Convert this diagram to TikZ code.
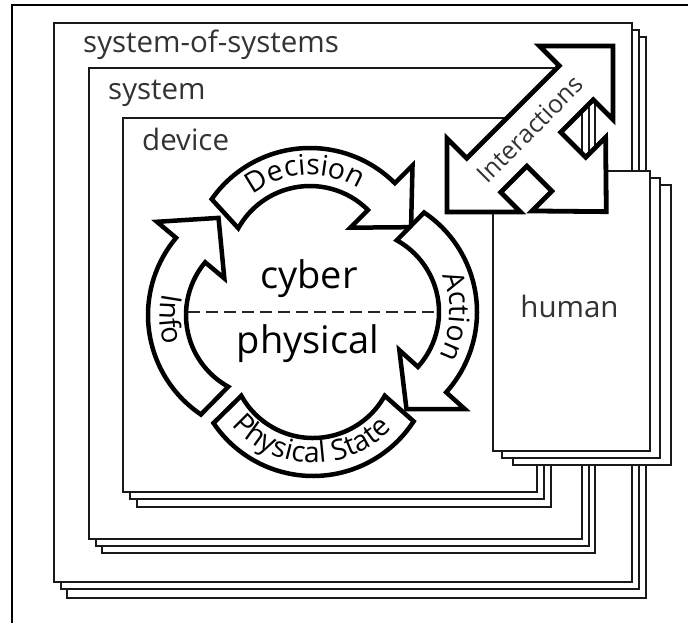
\documentclass[tikz,border=0pt]{standalone}
\usepackage{fontspec}
\setmainfont{Open Sans}
\usetikzlibrary{decorations.text}
\tikzset{
  sheet/.style={draw=black!90, line width=1.8pt, fill=white},
  looparrow/.style={draw=black, line width=4.5pt, fill=white, line join=miter, miter limit=10},
  layertitle/.style={inner sep=0pt, text=black!80, font=\fontsize{29.5}{29.5}\selectfont, anchor=base west},
  arctext/.style={decorate, decoration={text along path, text align=center, text={|\arcfont|#1}}},
}
\newcommand\arcfont{\fontsize{28.5}{28.5}\selectfont}
\begin{document}
\begin{tikzpicture}[x=1pt,y=1pt]
\useasboundingbox (0,0) rectangle (688,-623);
% page frame
\draw[line width=2.4pt] (12,-623) -- (12,-5) -- (688,-5);

% stacked sheets: back copies first, front sheet last
% system-of-systems
\draw[sheet] (67,-37) rectangle (646,-598);
\draw[sheet] (61,-30) rectangle (639,-589);
\draw[sheet] (54,-23) rectangle (632,-582);
% system
\draw[sheet] (102,-82) rectangle (595,-553);
\draw[sheet] (96,-75) rectangle (589,-546);
\draw[sheet] (89,-68) rectangle (582,-539);
% device
\draw[sheet] (137,-133) rectangle (551,-507);
\draw[sheet] (130,-125) rectangle (544,-499);
\draw[sheet] (123,-118) rectangle (537,-492);
% human
\draw[sheet] (513,-185) rectangle (671,-465);
\draw[sheet] (502,-178) rectangle (660,-458);
\draw[sheet] (493,-171) rectangle (650,-451);

\node[layertitle] (sos) at (83,-53) {system-of-systems};
\node[layertitle] (sys) at (108,-100) {system};
\node[layertitle] (dev) at (142,-150) {device};
\node[layertitle, anchor=base] (hum) at (569.5,-317) {human};

% cyber / physical split
\coordinate (dl) at (188,-312);
\coordinate (dr) at (440,-312);
\draw[black!85, line width=1.8pt, dash pattern=on 12pt off 6pt] (dl) -- (dr);
\node[inner sep=0pt, anchor=base, font=\fontsize{38}{38}\selectfont] (cyb) at (309,-288) {cyber};
\node[inner sep=0pt, anchor=base, font=\fontsize{38}{38}\selectfont] (phy) at (308,-353) {physical};

% Decision
\begin{scope}[shift={(310,-268)}]
  \draw[looparrow] (145:120) arc[start angle=145, end angle=45, radius=120]
    -- (45:145) -- (22:109) -- (45:57) -- (45:82)
    arc[start angle=45, end angle=151, radius=82] -- cycle;
  \path[arctext=Decision] (150:93) arc[start angle=150, end angle=36, radius=93];
\end{scope}

% Action
\begin{scope}[shift={(357,-312)}]
  \draw[looparrow] (56:120) arc[start angle=56, end angle=-42, radius=120]
    -- (-42:145) -- (-63:109) -- (-42:57) -- (-42:82)
    arc[start angle=-42, end angle=61, radius=82] -- cycle;
  \path[arctext=Action] (55:93) arc[start angle=55, end angle=-60, radius=93];
\end{scope}

% Info
\begin{scope}[shift={(268,-315)}]
  \draw[looparrow] (236:120) arc[start angle=236, end angle=140, radius=120]
    -- (140:145) -- (117:109) -- (140:57) -- (140:82)
    arc[start angle=140, end angle=241, radius=82] -- cycle;
  \path[arctext=Info] (130:108) arc[start angle=130, end angle=235, radius=108];
\end{scope}

% Physical State
\begin{scope}[shift={(313,-356)}]
  \draw[looparrow] (214:120) arc[start angle=214, end angle=327, radius=120]
    -- (331:82) arc[start angle=331, end angle=209, radius=82] -- cycle;
  \path[arctext=Physical State] (193:107) arc[start angle=193, end angle=345, radius=107];
\end{scope}

% Interactions: double arrow with a branch toward the human
\begin{scope}[shift={(530,-129)}, rotate=45]
  % the notch between the left head and the branch stays blank
  \fill[white] (-65.4,-24) -- (-28.5,-24) -- (-28.5,-59.4) -- (-56.5,-59.4) -- (-65.4,-52) -- cycle;
  \draw[looparrow, line width=4.8pt]
    (117.4,0) -- (65.4,52) -- (65.4,24) -- (-65.4,24) -- (-65.4,52)
    -- (-117.4,0) -- (-65.4,-52) -- (-65.4,-24) -- (-28.5,-24)
    -- (-28.5,-59.4) -- (-56.5,-59.4) -- (-4.5,-112.4) -- (47.5,-59.4)
    -- (19.5,-59.4) -- (19.5,-24) -- (65.4,-24) -- (65.4,-52) -- cycle;
  \node[inner sep=0pt, rotate=45, text=black!80, font=\fontsize{25}{25}\selectfont] (inter) at (0,0) {Interactions};
\end{scope}
\end{tikzpicture}
\end{document}
